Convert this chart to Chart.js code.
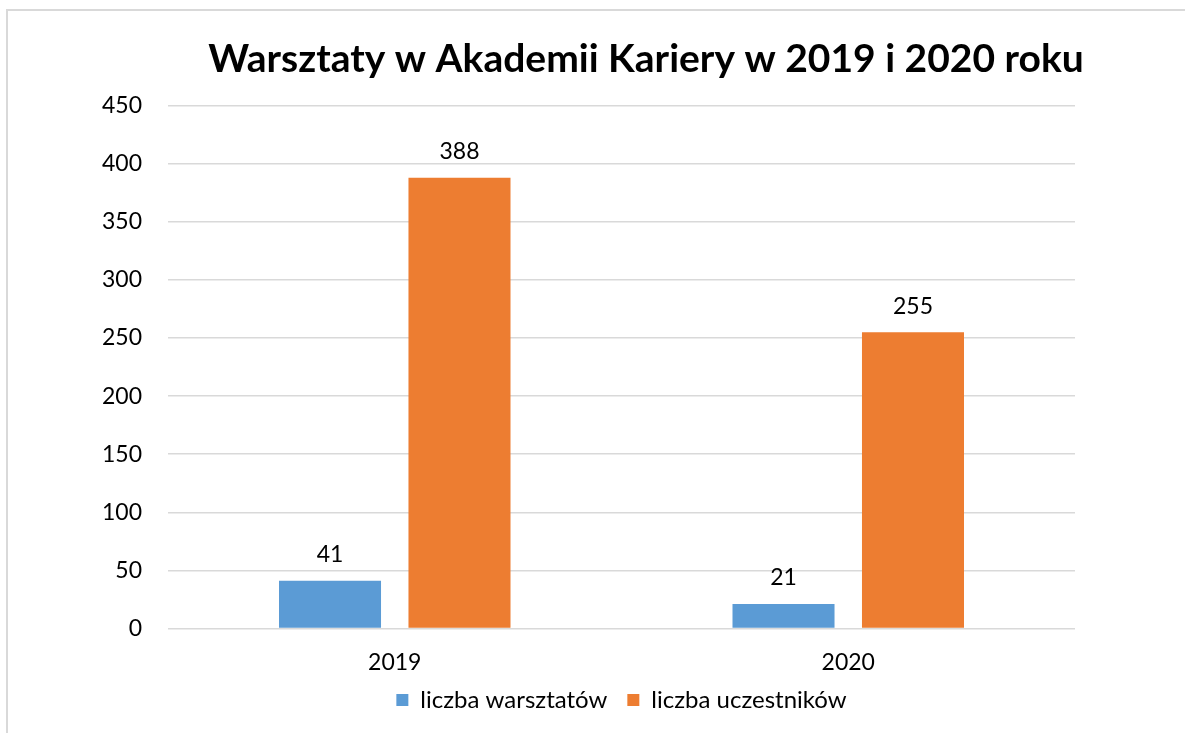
<!DOCTYPE html>
<html>
<head>
<meta charset="utf-8">
<script src="https://cdn.jsdelivr.net/npm/chart.js@4.4.0/dist/chart.umd.min.js"></script>
<style>
    html, body { margin: 0; padding: 0; background: #fff; overflow: hidden; }
    #frame { position: absolute; left: 6px; top: 9px; width: 1300px; height: 800px;
             border-left: 2px solid #d9d9d9; border-top: 2px solid #d9d9d9; }
    #wrap { position: absolute; left: 0; top: 0; width: 1292px; height: 733px; }
</style>
</head>
<body>
<div id="frame"></div>
<div id="wrap"><canvas id="chart"></canvas></div>
<script>
// chart data
const years = ['2019', '2020'];
const workshops = [41, 21];
const participants = [388, 255];
const yTicks = [0, 50, 100, 150, 200, 250, 300, 350, 400, 450];

const FONT = 'Lato, "Open Sans", sans-serif';
const LABEL_OVERLAP = 28; // x labels hang into the legend's top padding

// value labels above bars
const barLabels = {
    id: 'barLabels',
    afterLayout(chart) {
        // let the x labels draw past the shrunken axis box
        chart.scales.x.bottom += LABEL_OVERLAP;
    },
    afterDatasetsDraw(chart) {
        const ctx = chart.ctx;
        ctx.save();
        ctx.font = '23px ' + FONT;
        ctx.fillStyle = '#000';
        ctx.textAlign = 'center';
        ctx.textBaseline = 'middle';
        chart.data.datasets.forEach((ds, i) => {
            chart.getDatasetMeta(i).data.forEach((bar, j) => {
                ctx.fillText(ds.data[j], bar.x, bar.y - 26);
            });
        });
        ctx.restore();
    }
};

new Chart(document.getElementById('chart').getContext('2d'), {
    type: 'bar',
    data: {
        labels: years,
        datasets: [{
            label: 'liczba warsztatów',
            data: workshops,
            backgroundColor: '#5B9BD5',
            categoryPercentage: 0.571,
            barPercentage: 0.788
        }, {
            label: 'liczba uczestników',
            data: participants,
            backgroundColor: '#ED7D31',
            categoryPercentage: 0.571,
            barPercentage: 0.788
        }]
    },
    options: {
        responsive: true,
        maintainAspectRatio: false,
        animation: false,
        layout: {
            padding: { left: 0, right: 0, top: 0, bottom: 11 }
        },
        plugins: {
            title: {
                display: true,
                text: 'Warsztaty w Akademii Kariery w 2019 i 2020 roku',
                color: '#000',
                font: { family: FONT, size: 39, weight: 'bold' },
                padding: { top: 36, bottom: 23 }
            },
            legend: {
                position: 'bottom',
                fullSize: false,
                labels: {
                    color: '#000',
                    font: { family: FONT, size: 24 },
                    boxWidth: 12,
                    boxHeight: 12,
                    padding: 20
                }
            },
            tooltip: { enabled: false }
        },
        scales: {
            x: {
                afterFit(scale) { scale.height -= LABEL_OVERLAP; },
                grid: { display: false, drawTicks: false },
                border: { display: false },
                ticks: { color: '#000', font: { family: FONT, size: 23 }, padding: 20 }
            },
            y: {
                min: 0,
                max: 450,
                afterBuildTicks(scale) {
                    scale.ticks = yTicks.map(v => ({ value: v }));
                },
                afterFit(scale) { scale.width = 168; },
                grid: { color: '#d9d9d9', lineWidth: 1.5, drawTicks: false },
                border: { display: false },
                ticks: { color: '#000', font: { family: FONT, size: 23 }, padding: 26 }
            },
            // empty right-hand space of the chart area (title stays centred on the whole chart)
            yRight: {
                position: 'right',
                min: 0,
                max: 450,
                afterFit(scale) { scale.width = 217; },
                grid: { display: false, drawTicks: false },
                border: { display: false },
                ticks: { display: false }
            }
        }
    },
    plugins: [barLabels]
});
</script>
</body>
</html>
